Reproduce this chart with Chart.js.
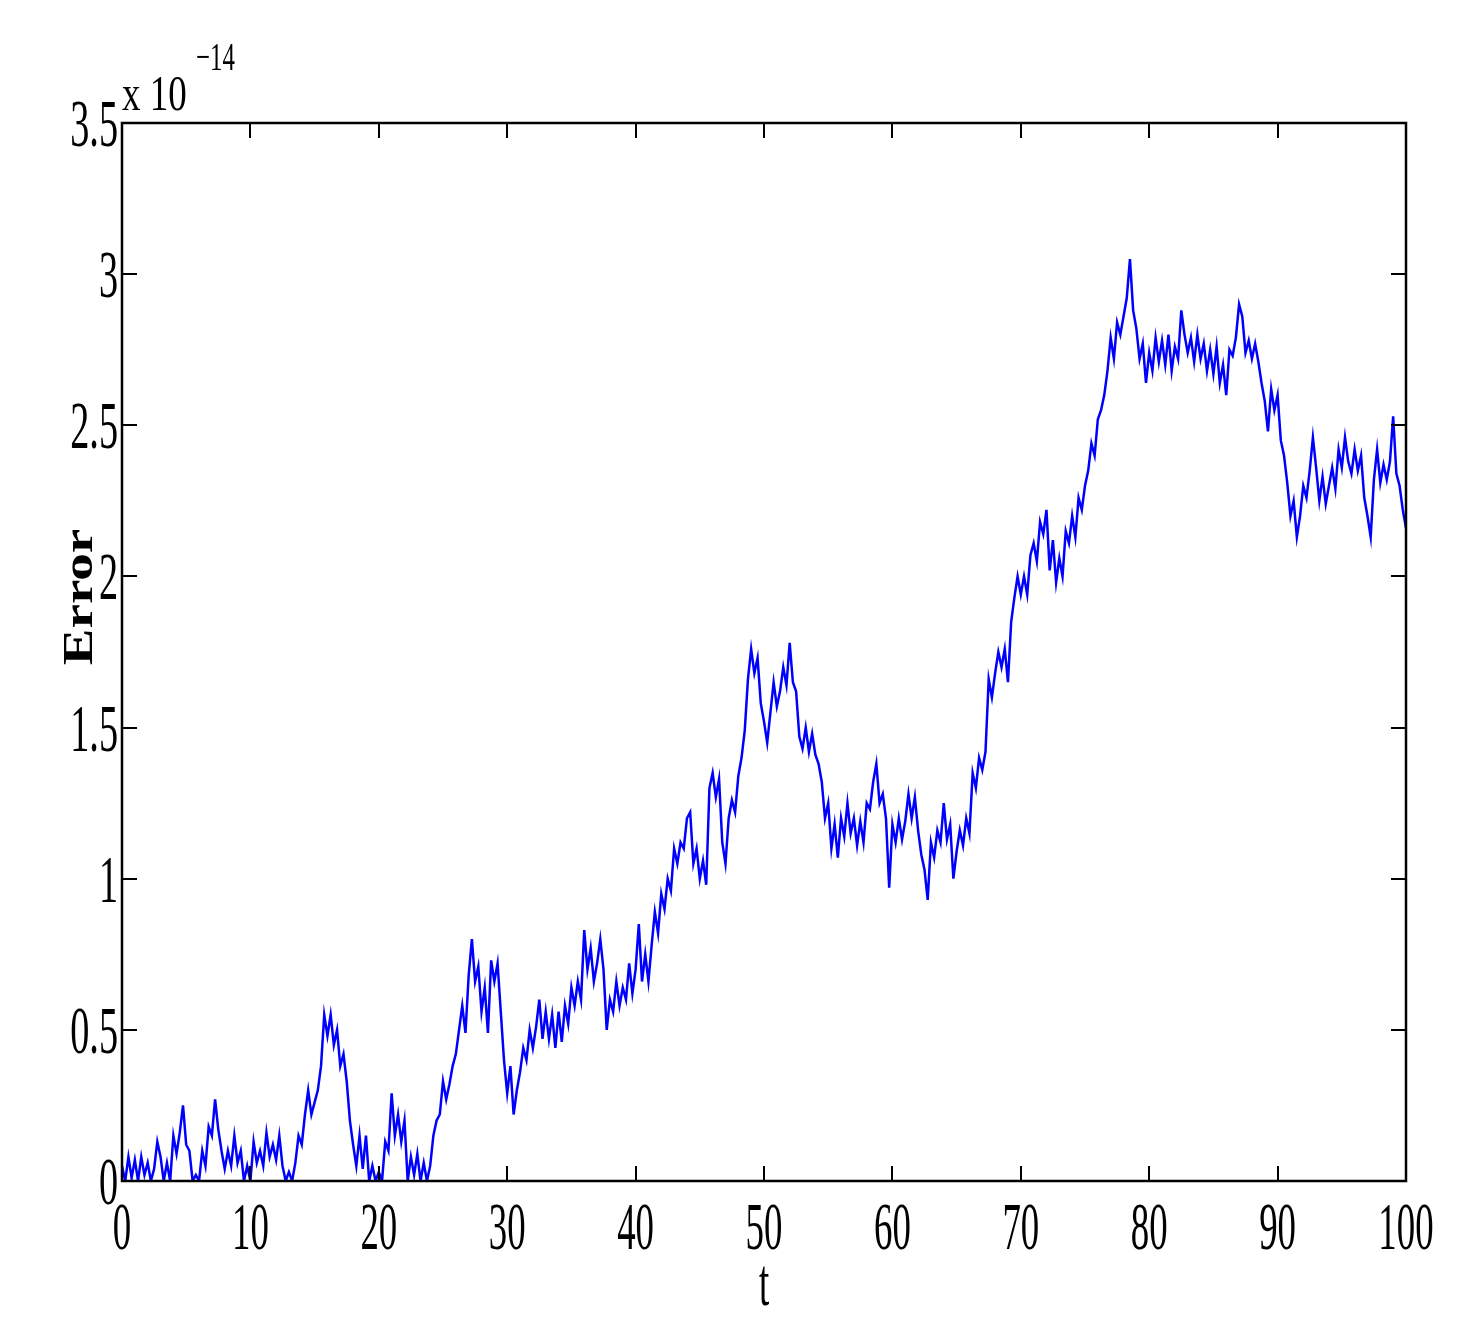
<!DOCTYPE html>
<html>
<head>
<meta charset="utf-8">
<script src="https://cdn.jsdelivr.net/npm/chart.js@4.4.0/dist/chart.umd.min.js"></script>
<style>
  body { margin: 0; background: #fff; }
  canvas { display: block; }
</style>
</head>
<body>
<canvas id="myChart" width="1468" height="1342"></canvas>
<script>
const step = 0.25
const errVals = [
  0.05,0.0,0.08,0.01,0.07,0.0,0.08,0.02,0.06,0.0,0.04,0.13,0.08,0.0,0.06,0.0,0.15,0.09,0.16,0.25,
  0.12,0.1,0.0,0.02,0.0,0.1,0.05,0.18,0.15,0.27,0.17,0.1,0.04,0.1,0.05,0.15,0.06,0.1,0.0,0.05,
  0.0,0.13,0.06,0.1,0.05,0.16,0.08,0.12,0.07,0.15,0.05,0.0,0.03,0.0,0.06,0.15,0.12,0.22,0.3,0.22,
  0.26,0.3,0.38,0.55,0.48,0.55,0.45,0.5,0.38,0.42,0.33,0.2,0.12,0.05,0.15,0.04,0.15,0.0,0.05,0.0,
  0.03,0.0,0.13,0.1,0.29,0.15,0.22,0.13,0.2,0.0,0.08,0.02,0.09,0.0,0.06,0.0,0.05,0.15,0.2,0.22,
  0.33,0.27,0.32,0.38,0.42,0.5,0.58,0.49,0.68,0.8,0.66,0.71,0.56,0.64,0.49,0.73,0.66,0.72,0.56,0.4,
  0.29,0.38,0.22,0.3,0.36,0.44,0.4,0.5,0.44,0.51,0.6,0.47,0.56,0.47,0.55,0.44,0.56,0.46,0.58,0.52,
  0.64,0.58,0.66,0.6,0.83,0.7,0.77,0.66,0.72,0.8,0.7,0.5,0.6,0.56,0.66,0.58,0.64,0.6,0.72,0.62,
  0.7,0.85,0.66,0.75,0.66,0.78,0.89,0.82,0.95,0.9,1.0,0.96,1.1,1.05,1.12,1.1,1.2,1.22,1.05,1.1,
  1.0,1.06,0.98,1.3,1.35,1.27,1.33,1.12,1.05,1.2,1.26,1.22,1.34,1.4,1.49,1.66,1.76,1.68,1.73,1.58,
  1.52,1.45,1.55,1.65,1.57,1.62,1.7,1.64,1.78,1.65,1.62,1.47,1.43,1.5,1.42,1.48,1.41,1.38,1.32,1.2,
  1.25,1.1,1.18,1.07,1.2,1.14,1.25,1.15,1.2,1.11,1.19,1.12,1.25,1.23,1.32,1.38,1.25,1.28,1.2,0.97,
  1.18,1.12,1.2,1.13,1.19,1.28,1.2,1.27,1.16,1.08,1.03,0.93,1.12,1.07,1.16,1.12,1.25,1.13,1.18,1.0,
  1.09,1.16,1.11,1.2,1.15,1.35,1.3,1.4,1.36,1.42,1.66,1.6,1.68,1.75,1.7,1.76,1.65,1.85,1.93,2.0,
  1.94,2.0,1.94,2.07,2.11,2.05,2.18,2.14,2.22,2.02,2.12,1.98,2.06,2.0,2.15,2.11,2.2,2.13,2.26,2.22,
  2.3,2.35,2.44,2.4,2.52,2.55,2.6,2.68,2.79,2.72,2.84,2.8,2.86,2.92,3.05,2.88,2.82,2.72,2.77,2.64,
  2.74,2.68,2.79,2.71,2.78,2.7,2.8,2.68,2.76,2.72,2.88,2.8,2.74,2.79,2.71,2.8,2.72,2.77,2.68,2.75,
  2.67,2.76,2.64,2.7,2.6,2.75,2.73,2.79,2.9,2.86,2.74,2.78,2.72,2.77,2.71,2.64,2.58,2.48,2.62,2.55,
  2.6,2.45,2.4,2.31,2.2,2.25,2.13,2.2,2.3,2.26,2.35,2.46,2.36,2.25,2.33,2.24,2.3,2.36,2.29,2.42,
  2.36,2.46,2.38,2.34,2.42,2.35,2.4,2.26,2.2,2.13,2.32,2.42,2.31,2.37,2.32,2.38,2.53,2.34,2.3,2.22,
  2.16
]
const xTicks = [0,10,20,30,40,50,60,70,80,90,100]
const yTicks = [0,0.5,1,1.5,2,2.5,3,3.5]
const yTickLabels = ["0","0.5","1","1.5","2","2.5","3","3.5"]

var puntos = errVals.map((v, i) => ({x: i*step, y: v}))

// squeezed serif text, like the original figure
function texto(ctx, str, x, y, size, sx, align, bold) {
    ctx.save()
    ctx.translate(x, y)
    ctx.scale(sx, 1)
    ctx.font = (bold ? "bold " : "") + size + "px 'Liberation Serif'"
    ctx.textAlign = align
    ctx.textBaseline = "alphabetic"
    ctx.fillStyle = "#000"
    ctx.fillText(str, 0, 0)
    ctx.restore()
}

const ejes = {
    id: "ejes",
    afterDatasetsDraw(chart) {
        const ctx = chart.ctx
        const a = chart.chartArea
        const sx = chart.scales.x, sy = chart.scales.y
        ctx.save()
        ctx.strokeStyle = "#000"
        ctx.lineWidth = 2.5
        ctx.strokeRect(a.left, a.top, a.right - a.left, a.bottom - a.top)
        ctx.lineWidth = 2
        ctx.beginPath()
        xTicks.forEach(t => {
            const px = Math.round(sx.getPixelForValue(t))
            ctx.moveTo(px, a.bottom); ctx.lineTo(px, a.bottom - 15)
            ctx.moveTo(px, a.top); ctx.lineTo(px, a.top + 15)
        })
        yTicks.forEach(t => {
            const py = Math.round(sy.getPixelForValue(t))
            ctx.moveTo(a.left, py); ctx.lineTo(a.left + 15, py)
            ctx.moveTo(a.right, py); ctx.lineTo(a.right - 15, py)
        })
        ctx.stroke()
        ctx.restore()

        xTicks.forEach(t => {
            texto(ctx, String(t), sx.getPixelForValue(t), a.bottom + 68, 67, 0.55, "center")
        })
        yTicks.forEach((t, i) => {
            texto(ctx, yTickLabels[i], a.left - 4, sy.getPixelForValue(t) + 23, 67, 0.57, "right")
        })
        texto(ctx, "t", 764, 1305, 67, 0.55, "center")
        texto(ctx, "x 10", 122, 110, 50, 0.74, "left")
        texto(ctx, "\u221214", 196, 70, 40, 0.62, "left")

        ctx.save()
        ctx.translate(92, 597)
        ctx.rotate(-Math.PI / 2)
        ctx.scale(1, 0.75)
        ctx.font = "bold 55px 'Liberation Serif'"
        ctx.textAlign = "center"
        ctx.textBaseline = "alphabetic"
        ctx.fillStyle = "#000"
        ctx.fillText("Error", 0, 0)
        ctx.restore()
    }
}

const config = {
    type: "line",
    data: {
        datasets: [{
            data: puntos,
            borderColor: "#0000ff",
            borderWidth: 2.5,
            pointRadius: 0,
            tension: 0,
            fill: false
        }]
    },
    options: {
        responsive: false,
        animation: false,
        devicePixelRatio: 1,
        layout: { padding: { left: 122, right: 62, top: 123, bottom: 161 } },
        scales: {
            x: { type: "linear", min: 0, max: 100, display: false },
            y: { min: 0, max: 3.5, display: false }
        },
        plugins: { legend: { display: false }, tooltip: { enabled: false } }
    },
    plugins: [ejes]
}

const chartDOM = document.getElementById("myChart")
let myChart = new Chart(chartDOM, config)
</script>
</body>
</html>
